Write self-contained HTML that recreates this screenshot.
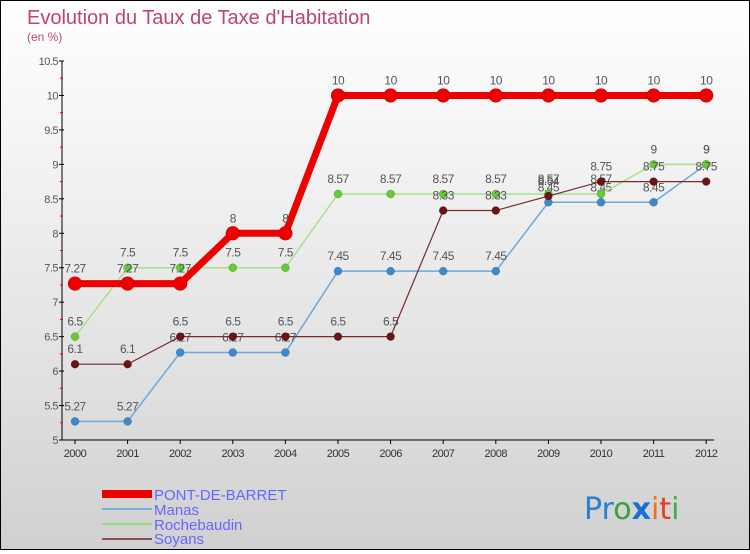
<!DOCTYPE html>
<html><head><meta charset="utf-8">
<style>
body{margin:0;width:750px;height:550px;overflow:hidden;font-family:"Liberation Sans",sans-serif}
#wrap{position:relative;width:748px;height:548px;border:1px solid #000;background:linear-gradient(#ffffff 0%,#f2f2f2 30%,#e0e0e0 70%,#d0d0d0 100%)}
</style></head><body>
<div id="wrap">
<svg id="svg" width="748" height="548" xmlns="http://www.w3.org/2000/svg">
<text x="26" y="23" font-size="20" fill="#c0446e">Evolution du Taux de Taxe d'Habitation</text>
<text x="26" y="40" font-size="12" fill="#c0446e">(en %)</text>
<g id="axes"></g><g id="series"></g>
<g>
<rect x="101" y="489" width="50" height="8" fill="#e00"/>
<text x="153" y="499" font-size="15" fill="#6666ff">PONT-DE-BARRET</text>
<rect x="101" y="507" width="50" height="2" fill="#7ab0d8"/>
<text x="153" y="514" font-size="15" fill="#6666ff">Manas</text>
<rect x="101" y="522" width="50" height="2" fill="#90e070"/>
<text x="153" y="529" font-size="15" fill="#6666ff">Rochebaudin</text>
<rect x="101" y="537" width="50" height="2" fill="#8a5050"/>
<text x="153" y="543" font-size="15" fill="#6666ff">Soyans</text>
</g>
<text x="583" y="518" font-size="30" font-family="'DejaVu Sans',sans-serif"><tspan fill="#2a7fd0">Pr</tspan><tspan fill="#3aa040">o</tspan><tspan fill="#1a6fd0" font-weight="bold">x</tspan><tspan fill="#f07020">i</tspan><tspan fill="#e04020">t</tspan><tspan fill="#40b040">i</tspan></text>
</svg></div>
<script>
const years=[2000,2001,2002,2003,2004,2005,2006,2007,2008,2009,2010,2011,2012];
const pont=[7.27,7.27,7.27,8,8,10,10,10,10,10,10,10,10];
const manas=[5.27,5.27,6.27,6.27,6.27,7.45,7.45,7.45,7.45,8.45,8.45,8.45,9];
const roche=[6.5,7.5,7.5,7.5,7.5,8.57,8.57,8.57,8.57,8.57,8.57,9,9];
const soyans=[6.1,6.1,6.5,6.5,6.5,6.5,6.5,8.33,8.33,8.54,8.75,8.75,8.75];
const yTicks=[5,5.5,6,6.5,7,7.5,8,8.5,9,9.5,10,10.5];
const NS="http://www.w3.org/2000/svg";
const X=i=>74+i*52.6;
const Y=v=>439-(v-5)*(379/5.5);
function mk(t,a,p){const e=document.createElementNS(NS,t);for(const k in a)e.setAttribute(k,a[k]);p.appendChild(e);return e;}
const ax=document.getElementById('axes'),sg=document.getElementById('series');
let yl=mk('line',{x1:61,y1:Y(10.5),x2:61,y2:Y(5),stroke:'#000'},ax);


let xl=mk('line',{x1:61,y1:Y(5),x2:X(12)+8,y2:Y(5),stroke:'#000'},ax);


yTicks.forEach(v=>{
  mk('line',{x1:58,y1:Y(v),x2:63,y2:Y(v),stroke:'#000'},ax);
  const t=mk('text',{x:57,y:Y(v)+4,'font-size':11,fill:'#555','text-anchor':'end','letter-spacing':'-0.5'},ax);t.textContent=String(v);
  
  
  if(v<10.5)mk('line',{x1:59,y1:Y(v+0.25),x2:62,y2:Y(v+0.25),stroke:'#e00'},ax);
});
years.forEach((y,i)=>{
  mk('line',{x1:X(i),y1:Y(5),x2:X(i),y2:Y(5)+4,stroke:'#000'},ax);
  const t=mk('text',{x:X(i),y:Y(5)+17,'font-size':11,fill:'#333','text-anchor':'middle','letter-spacing':'-0.5'},ax);t.textContent=y;
  
  
});
function series(data,color,dot,w,r,name){
  const g=mk('g',{},sg);
  
  
  mk('polyline',{points:data.map((v,i)=>X(i)+','+Y(v)).join(' '),fill:'none',stroke:color,'stroke-width':w},g);
  data.forEach((v,i)=>{
    const c=mk('circle',{cx:X(i),cy:Y(v),r:r,fill:dot,stroke:'rgba(0,0,0,0.3)','stroke-width':0.5},g);
    
    
    const t=mk('text',{x:X(i),y:Y(v)-11,'font-size':12,fill:'#555','text-anchor':'middle','letter-spacing':'-0.5'},g);t.textContent=String(v);
    
    
  });
}
series(manas,'#6fa8d8','#3a8ad0',1.5,4,'manas');
series(roche,'#a8e090','#66cc33',1.5,4,'rochebaudin');
series(soyans,'#7a2a2a','#6a1515',1.2,4,'soyans');
series(pont,'#ee0000','#ee0000',7,7,'pont-de-barret');
</script>
</body></html>
